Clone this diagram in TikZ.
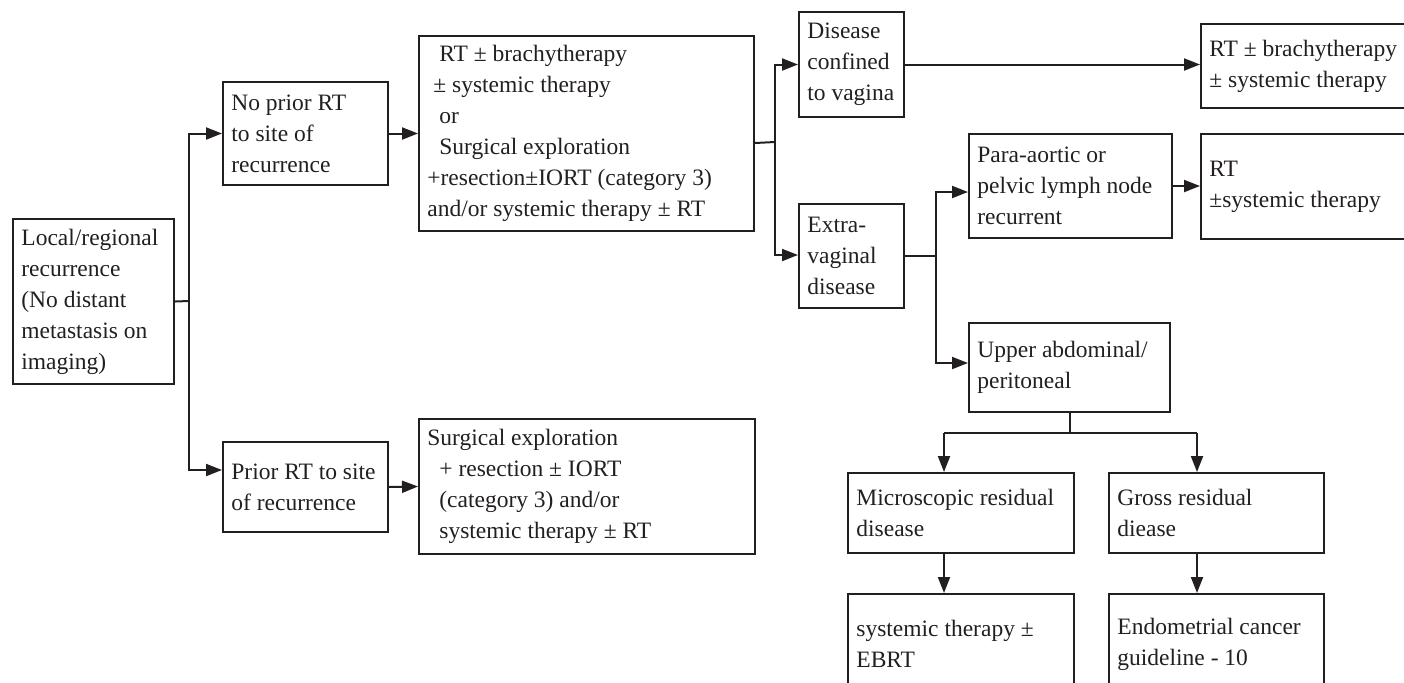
\documentclass[tikz,border=0pt]{standalone}
\usepackage{fontspec}
\setmainfont{Liberation Serif}
\usetikzlibrary{arrows.meta,calc}

\definecolor{ink}{RGB}{35,31,32}

\tikzset{
  box/.style={draw=ink, line width=1pt, rectangle, inner sep=0pt, anchor=north west},
  boxtext/.style={anchor=west, inner xsep=4.5pt, inner ysep=0pt, align=left, text=ink,
    font=\fontsize{11.75}{15.5}\selectfont},
  link/.style={draw=ink, line width=1pt},
  arr/.style={link, -{Triangle[length=8pt,width=6pt]}}
}

% box given by its corners (x1,y1) and (x2,y2) in pixel units,
% with its lines set flush left and centred vertically
\newcommand\flowbox[6]{%
  \pgfmathsetmacro\bw{0.5*(#4-#2)}%
  \pgfmathsetmacro\bh{0.5*(#5-#3)}%
  \node[box, minimum width=\bw pt, minimum height=\bh pt] (#1) at (#2,#3) {};%
  \node[boxtext] (#1-text) at (#1.west) {#6};%
}

\begin{document}
\begin{tikzpicture}[x=0.5pt,y=-0.5pt]
\useasboundingbox (0,0) rectangle (1404,682);

% boxes
\flowbox{local}{12}{218}{173}{383}{Local/regional\\recurrence\\(No distant\\metastasis on\\imaging)}
\flowbox{noprior}{222}{81}{387}{184}{No prior RT\\to site of\\recurrence}
\flowbox{prior}{222}{441}{387}{531}{Prior RT to site\\of recurrence}
\flowbox{opt1}{418}{35}{753}{230}{\hspace*{6pt}RT ± brachytherapy\\\hspace*{3pt}± systemic therapy\\\hspace*{6pt}or\\\hspace*{6pt}Surgical exploration\\+resection±IORT (category 3)\\and/or systemic therapy ± RT}
\flowbox{opt2}{418}{418}{754}{553}{Surgical exploration\\\hspace*{6pt}+ resection ± IORT\\\hspace*{6pt}(category 3) and/or\\\hspace*{6pt}systemic therapy ± RT}
\flowbox{vag}{798}{11}{903}{116}{Disease\\confined\\to vagina}
\flowbox{extra}{798}{203}{903}{307}{Extra-\\vaginal\\disease}
\flowbox{rt1}{1200}{23}{1420}{107}{RT ± brachytherapy\\± systemic therapy}
\flowbox{para}{968}{133}{1171}{237}{Para-aortic or\\pelvic lymph node\\recurrent}
\flowbox{rt2}{1200}{133}{1420}{238}{RT\\±systemic therapy}
\flowbox{upper}{968}{322}{1169}{411}{Upper abdominal/\\peritoneal}
\flowbox{micro}{847}{472}{1073}{552}{Microscopic residual\\disease}
\flowbox{gross}{1108}{472}{1323}{552}{Gross residual\\diease}
\flowbox{sysebrt}{847}{593}{1073}{693}{systemic therapy ±\\EBRT}
\flowbox{endo}{1108}{593}{1323}{693}{Endometrial cancer\\guideline - 10}

% branch points
\coordinate (b1) at (189,301);
\coordinate (b2) at (775,142);
\coordinate (b3) at (936,256);
\coordinate (b4) at (1067,433);

% prior RT split
\draw[link] (local.east) -- (b1);
\draw[arr] (b1) |- (noprior.west);
\draw[arr] (b1) |- ([yshift=8.5pt]prior.west);
\draw[arr] (noprior.east) -- (opt1.west);
\draw[arr] (prior.east) -- (opt2.west);

% disease extent split
\draw[link] ([yshift=-4.75pt]opt1.east) -- (b2);
\draw[arr] (b2) |- (vag.west);
\draw[arr] (b2) |- ([yshift=0.5pt]extra.west);
\draw[arr] (vag.east) -- (vag.east -| rt1.west);

% extra-vaginal split
\draw[link] (extra.east |- b3) -- (b3);
\draw[arr] (b3) |- ([yshift=-3pt]para.west);
\draw[arr] (b3) |- ([yshift=2.25pt]upper.west);
\draw[arr] (para.east) -- (para.east -| rt2.west);

% residual disease split
\draw[link] (upper.south) -- (upper.south |- b4);
\draw[link] ([xshift=-8.5pt]micro.north |- b4) -- ([xshift=-9.75pt]gross.north |- b4);
\draw[arr] ([xshift=-8.5pt]micro.north |- b4) -- ([xshift=-8.5pt]micro.north);
\draw[arr] ([xshift=-9.75pt]gross.north |- b4) -- ([xshift=-9.75pt]gross.north);
\draw[arr] ([xshift=-8.5pt]micro.south) -- ([xshift=-8.5pt]sysebrt.north);
\draw[arr] ([xshift=-9.75pt]gross.south) -- ([xshift=-9.75pt]endo.north);
\end{tikzpicture}
\end{document}
